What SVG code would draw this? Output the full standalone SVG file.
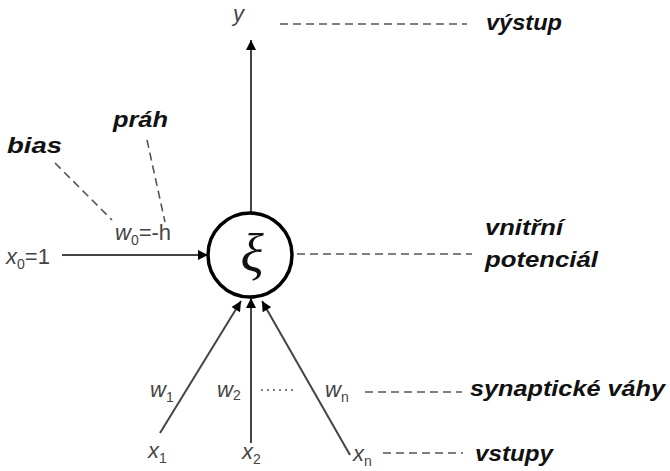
<svg xmlns="http://www.w3.org/2000/svg" width="670" height="471" viewBox="0 0 670 471">
<style>
.lbl{font-family:"Liberation Sans",Arial,sans-serif;font-style:italic;font-weight:bold;font-size:22px;fill:#111}
.var{font-family:"Liberation Sans",Arial,sans-serif;font-size:22px;fill:#444}
.sub{font-size:14px}
.edge{stroke:#444;stroke-width:2;fill:none}
.dash{stroke:#555;stroke-width:1.6;stroke-dasharray:8,5;fill:none}
</style>
<defs>
<marker id="ah2" viewBox="0 0 10 10" refX="10" refY="5" markerWidth="12" markerHeight="10" markerUnits="userSpaceOnUse" orient="auto">
<path d="M0,0 L10,5 L0,10 z" fill="#000"/>
</marker>
</defs>
<rect width="670" height="471" fill="#fff"/>
<g id="connectors">
<line class="edge" x1="251" y1="213" x2="251" y2="40" marker-end="url(#ah2)"/>
<line class="edge" x1="62" y1="255" x2="208" y2="255" marker-end="url(#ah2)"/>
<line class="edge" x1="160" y1="433" x2="241" y2="301" marker-end="url(#ah2)"/>
<line class="edge" x1="251" y1="443" x2="251" y2="298" marker-end="url(#ah2)"/>
<line class="edge" x1="350" y1="455" x2="262" y2="301" marker-end="url(#ah2)"/>
<line class="dash" x1="280" y1="24" x2="467" y2="24"/>
<line class="dash" x1="297" y1="254" x2="472" y2="254"/>
<line class="dash" x1="365" y1="392" x2="462" y2="392"/>
<line class="dash" x1="383" y1="453" x2="463" y2="453"/>
<line class="dash" x1="55" y1="163" x2="112" y2="220"/>
<line class="dash" x1="147" y1="140" x2="165" y2="222"/>
<line x1="261" y1="390" x2="297" y2="390" stroke="#555" stroke-width="1.6" stroke-dasharray="2,4"/>
</g>
<g id="neuron">
<circle cx="250" cy="255" r="42" fill="#fff" stroke="#000" stroke-width="3.5"/>
<text x="252" y="272" text-anchor="middle" font-family="Liberation Serif, serif" font-style="italic" font-size="54" fill="#111">ξ</text>
</g>
<g id="output">
<text class="var" x="233" y="21" font-style="italic">y</text>
<text class="lbl" x="486" y="30" textLength="76" lengthAdjust="spacingAndGlyphs">výstup</text>
</g>
<g id="bias">
<text class="lbl" x="7" y="153" textLength="55" lengthAdjust="spacingAndGlyphs">bias</text>
<text class="lbl" x="113" y="127" textLength="55" lengthAdjust="spacingAndGlyphs">práh</text>
<text class="var" x="115" y="240"><tspan font-style="italic">w</tspan><tspan class="sub" dy="5">0</tspan><tspan dy="-5">=-h</tspan></text>
<text class="var" x="6" y="264"><tspan font-style="italic">x</tspan><tspan class="sub" dy="5">0</tspan><tspan dy="-5">=1</tspan></text>
</g>
<g id="potential">
<text class="lbl" x="485" y="235" textLength="78" lengthAdjust="spacingAndGlyphs">vnitřní</text>
<text class="lbl" x="485" y="267" textLength="113" lengthAdjust="spacingAndGlyphs">potenciál</text>
</g>
<g id="weights">
<text class="var" x="150" y="397"><tspan font-style="italic">w</tspan><tspan class="sub" dy="5">1</tspan></text>
<text class="var" x="217" y="397"><tspan font-style="italic">w</tspan><tspan class="sub" dy="3">2</tspan></text>
<text class="var" x="325" y="397"><tspan font-style="italic">w</tspan><tspan class="sub" dy="5">n</tspan></text>
<text class="lbl" x="470" y="396" textLength="195" lengthAdjust="spacingAndGlyphs">synaptické váhy</text>
</g>
<g id="inputs">
<text class="var" x="148" y="458"><tspan font-style="italic">x</tspan><tspan class="sub" dy="5">1</tspan></text>
<text class="var" x="242" y="459"><tspan font-style="italic">x</tspan><tspan class="sub" dy="5">2</tspan></text>
<text class="var" x="353" y="461"><tspan font-style="italic">x</tspan><tspan class="sub" dy="5">n</tspan></text>
<text class="lbl" x="475" y="461" textLength="78" lengthAdjust="spacingAndGlyphs">vstupy</text>
</g>
</svg>
